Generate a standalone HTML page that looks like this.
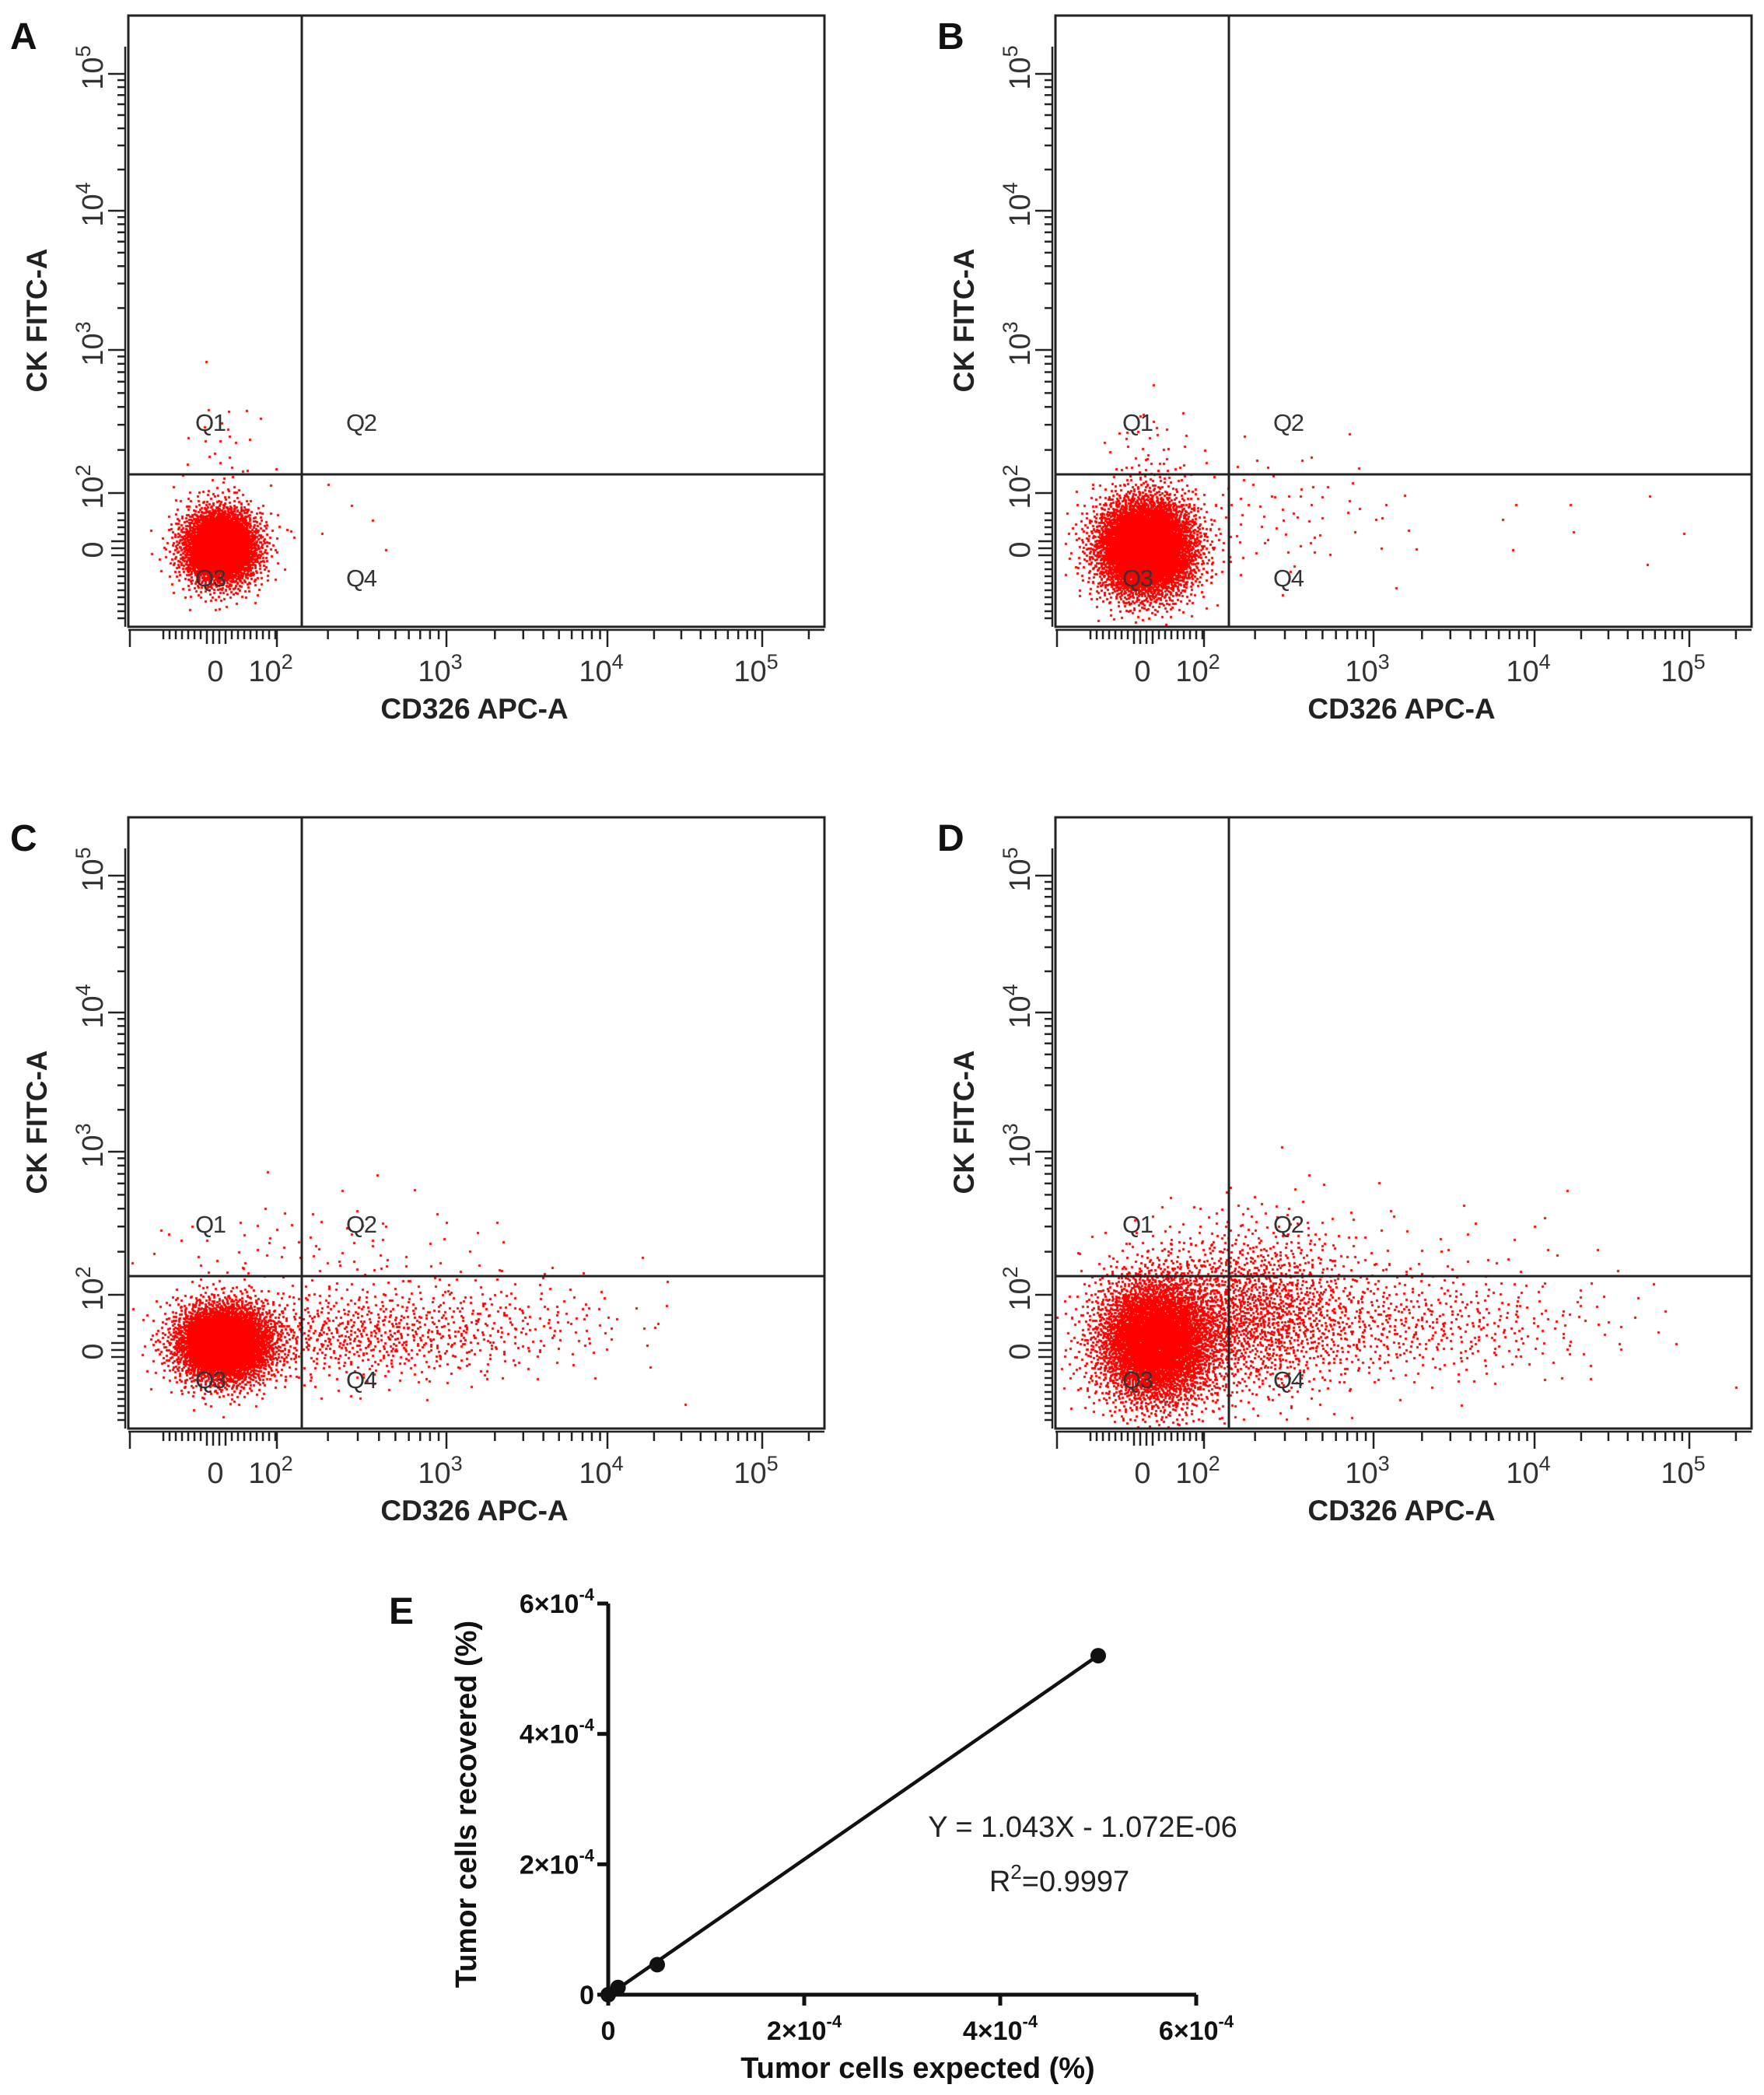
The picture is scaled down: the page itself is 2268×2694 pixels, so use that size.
<!DOCTYPE html>
<html><head><meta charset="utf-8">
<style>
body{margin:0;background:#fff;}
#root{position:relative;width:2268px;height:2694px;overflow:hidden;background:#fff;font-family:"Liberation Sans",sans-serif;}
canvas{position:absolute;left:0;top:0;}
</style></head>
<body>
<div id="root">
<canvas id="dots" width="2268" height="2694"></canvas>
<svg id="svg" width="2268" height="2694" style="position:absolute;left:0;top:0"></svg>
</div>
<script>
// ---- Flow panel data ----
const panelNames = ["A","B","C","D"];
const panelOrigins = [[165,20],[1357,20],[165,1051],[1357,1051]];
// clusters per panel: [cx, cy, sx, sy, n] in plot-relative units
const clustersA = [[117,682,25,25,3000],[120,570,28,45,35],[250,660,60,30,8]];
const clustersB = [[115,683,32,32,4800],[120,580,30,40,60],[270,640,90,45,90],[600,650,200,30,12]];
const clustersC = [[122,675,32,26,3600],[290,665,100,30,650],[470,650,95,32,220],[240,560,130,40,100]];
const clustersD = [[128,672,40,42,4200],[250,635,70,55,1500],[440,650,130,36,600],[380,545,170,35,50]];
const panelClusters = [clustersA, clustersB, clustersC, clustersD];
// axes
const xTickLabels = ["0","10","10","10","10"];
const xTickExp = ["","2","3","4","5"];
const xTickPos = [112,191,409,616,815];
const yTickLabels = ["0","10","10","10","10"];
const yTickExp = ["","2","3","4","5"];
const yTickPos = [687,614,430,251,75];
const quadLabels = ["Q1","Q2","Q3","Q4"];
const gateX = 223, gateY = 590;
const boxW = 895, boxH = 786;

// ---- Panel E data ----
const eX = [0, 1e-5, 5e-5, 5e-4];
const eY = [0, 1.1e-5, 4.6e-5, 5.2e-4];
const eTicks = [0, 2e-4, 4e-4, 6e-4];
const eTickLabels = ["0","2","4","6"];
const slope = 1.043, intercept = -1.072e-6;

const NS = "http://www.w3.org/2000/svg";
const svg = document.getElementById('svg');
function el(tag, attrs, parent, text){
  const e = document.createElementNS(NS, tag);
  for (const k in attrs) e.setAttribute(k, attrs[k]);
  if (text !== undefined) e.textContent = text;
  (parent||svg).appendChild(e);
  return e;
}
function halton(i, b){let f=1,r=0;while(i>0){f/=b;r+=f*(i%b);i=Math.floor(i/b);}return r;}
const ctx = document.getElementById('dots').getContext('2d');
ctx.fillStyle = '#ff0000';
let seq = 1;
const quadPos = [[86,534],[280,534],[86,734],[280,734]];
panelOrigins.forEach((o,pi)=>{
  const [ox,oy]=o;
  const g = el('g',{},svg);
  
  
  ctx.save(); ctx.beginPath(); ctx.rect(ox,oy,boxW,boxH); ctx.clip();
  panelClusters[pi].forEach(c=>{
    const [cx,cy,sx,sy,n]=c;
    for(let i=0;i<n;i++){
      seq++;
      const u1=Math.max(1e-6,halton(seq,2)), u2=halton(seq,3);
      const r=Math.sqrt(-2*Math.log(u1));
      const x=ox+cx+sx*r*Math.cos(2*Math.PI*u2);
      const y=oy+cy+sy*r*Math.sin(2*Math.PI*u2);
      ctx.fillRect(Math.round(x),Math.round(y),3,3);
    }
  });
  ctx.restore();
  const box = el('rect',{x:ox,y:oy,width:boxW,height:boxH,fill:'none',stroke:'#222','stroke-width':3},g);
   
  const gv = el('line',{x1:ox+gateX,x2:ox+gateX,y1:oy,y2:oy+boxH,stroke:'#222','stroke-width':3},g);
   
  const gh = el('line',{x1:ox,x2:ox+boxW,y1:oy+gateY,y2:oy+gateY,stroke:'#222','stroke-width':3},g);
   
  quadLabels.forEach((q,qi)=>{
    const t=el('text',{x:ox+quadPos[qi][0],y:oy+quadPos[qi][1],'font-size':31,fill:'#333','textLength':40},g,q);
    
    
  });
  const ax = el('g',{stroke:'#222','stroke-width':2.5},g);
   
  el('line',{x1:ox,x2:ox+boxW,y1:oy+boxH+4,y2:oy+boxH+4},ax);
  for(let x=45;x<191;x+=8){ el('line',{x1:ox+x,x2:ox+x,y1:oy+boxH+4,y2:oy+boxH+(x>95&&x<130?22:16)},ax); }
  el('line',{x1:ox+2,x2:ox+2,y1:oy+boxH+4,y2:oy+boxH+26},ax);
  for(let d=1; d<5; d++){
    const a=xTickPos[d], b=(d<4?xTickPos[d+1]:xTickPos[4]+(xTickPos[4]-xTickPos[3]));
    el('line',{x1:ox+a,x2:ox+a,y1:oy+boxH+4,y2:oy+boxH+26},ax);
    for(let m=2;m<10;m++){const xx=a+(b-a)*Math.log10(m); if(xx<boxW-10) el('line',{x1:ox+xx,x2:ox+xx,y1:oy+boxH+4,y2:oy+boxH+16},ax);}
  }
  xTickLabels.forEach((lab,i)=>{
    const t=el('text',{x:ox+xTickPos[i]+(i==0?0:-8),y:oy+boxH+70,'font-size':38,fill:'#333','text-anchor':'middle'},g);
     
    t.textContent=lab;
    if(xTickExp[i]){el('tspan',{dy:-16,'font-size':27},t,xTickExp[i]);}
  });
  const xt=el('text',{x:ox+445,y:oy+boxH+118,'font-size':37,'font-weight':'bold',fill:'#222','text-anchor':'middle'},g,'CD326 APC-A');
   
  const ay = el('g',{stroke:'#222','stroke-width':2.5},g);
   
  el('line',{x1:ox-4,x2:ox-4,y1:oy+40,y2:oy+boxH},ay);
  for(let y=640;y<780;y+=9){ el('line',{x1:ox-4,x2:ox-(y>670&&y<700?22:14),y1:oy+y,y2:oy+y},ay); }
  for(let d=1; d<5; d++){
    const a=yTickPos[d], b=(d<4?yTickPos[d+1]:yTickPos[4]-(yTickPos[3]-yTickPos[4]));
    el('line',{x1:ox-4,x2:ox-26,y1:oy+a,y2:oy+a},ay);
    for(let m=2;m<10;m++){const yy=a+(b-a)*Math.log10(m); if(yy>40) el('line',{x1:ox-4,x2:ox-14,y1:oy+yy,y2:oy+yy},ay);}
  }
  yTickLabels.forEach((lab,i)=>{
    const cx=ox-45, cy=oy+yTickPos[i]+(i==0?0:-8);
    const t=el('text',{x:cx,y:cy,'font-size':38,fill:'#333','text-anchor':'middle',transform:`rotate(-90 ${cx} ${cy}) translate(0 12)`},g);
     
    t.textContent=lab;
    if(yTickExp[i]){el('tspan',{dy:-16,'font-size':27},t,yTickExp[i]);}
  });
  const ycx=ox-105, ycy=oy+392;
  const yt=el('text',{x:ycx,y:ycy,'font-size':37,'font-weight':'bold',fill:'#222','text-anchor':'middle',transform:`rotate(-90 ${ycx} ${ycy})`},g,'CK FITC-A');
   
  const pl=el('text',{x:ox-152,y:oy+43,'font-size':48,'font-weight':'bold',fill:'#111'},g,panelNames[pi]);
   
});

// ---- Panel E ----
const x0=782, x1=1538, y0=2565, y1=2062;
const sx = v => x0 + (v/6e-4)*(x1-x0);
const sy = v => y0 - (v/6e-4)*(y0-y1);
const gE = el('g',{},svg);
 
const axE = el('g',{stroke:'#111','stroke-width':5},gE);
 
el('line',{x1:x0,x2:x0,y1:y1,y2:y0+2},axE);
el('line',{x1:x0-2,x2:x1,y1:y0,y2:y0},axE);
eTicks.forEach((v,i)=>{
  el('line',{x1:sx(v),x2:sx(v),y1:y0,y2:y0+14},axE);
  el('line',{x1:x0,x2:x0-14,y1:sy(v),y2:sy(v)},axE);
  const lx=el('text',{x:sx(v),y:y0+58,'font-size':34,'font-weight':'bold','text-anchor':'middle',fill:'#111'},gE);
   
  const ly=el('text',{x:x0-18,y:sy(v)+12,'font-size':34,'font-weight':'bold','text-anchor':'end',fill:'#111'},gE);
   
  [lx,ly].forEach(t=>{
    if(v===0){t.textContent=eTickLabels[i];}
    else{t.textContent=eTickLabels[i]+'×10'; el('tspan',{dy:-16,'font-size':22},t,'-4'); }
  });
});
const fit = el('line',{x1:sx(0),y1:sy(intercept),x2:sx(eX[3]),y2:sy(slope*eX[3]+intercept),stroke:'#111','stroke-width':4.5},gE);
 
eX.forEach((v,i)=>{
  const c=el('circle',{cx:sx(v),cy:sy(eY[i]),r:10,fill:'#111'},gE);
   
});
const eq=el('text',{x:1392,y:2362,'font-size':38,fill:'#222','text-anchor':'middle'},gE,'Y = 1.043X - 1.072E-06');
 
const r2=el('text',{x:1362,y:2432,'font-size':38,fill:'#222','text-anchor':'middle'},gE,'R');
el('tspan',{dy:-16,'font-size':26},r2,'2');
el('tspan',{dy:16},r2,'=0.9997');
 
const ext=el('text',{x:1180,y:2672,'font-size':38,'font-weight':'bold',fill:'#111','text-anchor':'middle'},gE,'Tumor cells expected (%)');
 
const eyt=el('text',{x:612,y:2320,'font-size':38,'font-weight':'bold',fill:'#111','text-anchor':'middle',transform:'rotate(-90 612 2320)'},gE,'Tumor cells recovered (%)');
 
const el5=el('text',{x:500,y:2088,'font-size':48,'font-weight':'bold',fill:'#111'},gE,'E');
 
</script>
</body></html>
